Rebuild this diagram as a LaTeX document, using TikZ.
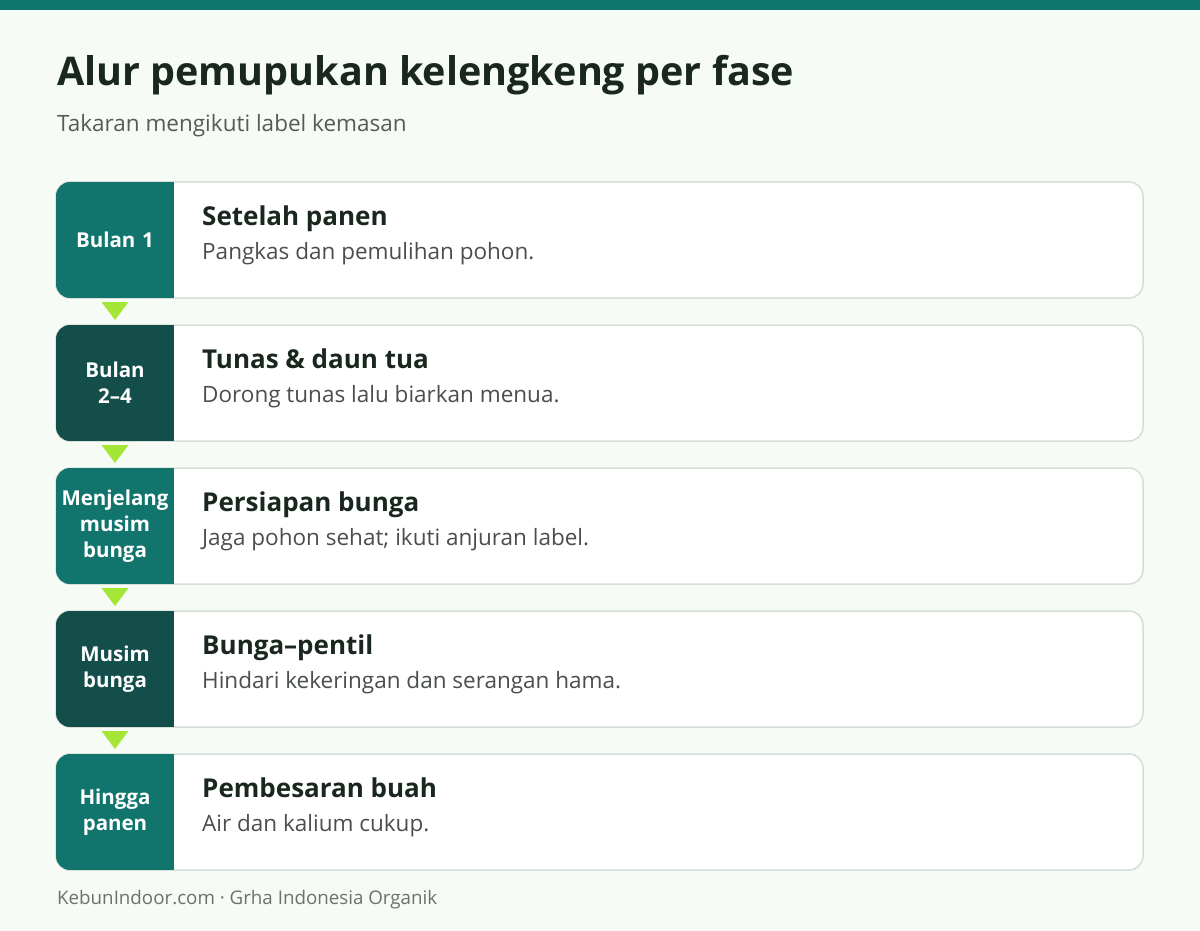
\documentclass[tikz,border=0pt]{standalone}
\usepackage{fontspec}
\setmainfont{Open Sans}
\usetikzlibrary{positioning}
\definecolor{bg}{HTML}{F7FBF6}
\definecolor{bar}{HTML}{0F766E}
\definecolor{tealA}{HTML}{11756E}
\definecolor{tealB}{HTML}{134E4A}
\definecolor{cardline}{HTML}{D6DED8}
\definecolor{titlec}{HTML}{1A271F}
\definecolor{desc}{HTML}{4A4F4C}
\definecolor{sub}{HTML}{555B57}
\definecolor{foot}{HTML}{6B716D}
\definecolor{lime}{HTML}{A3E635}
\tikzset{
  cardbox/.style={draw=cardline, line width=1.5pt, fill=white, rounded corners=14pt},
  tagtext/.style={text=white, font=\bfseries\fontsize{20.5}{26}\selectfont, align=center, text width=118pt, inner sep=0pt},
  cardtitle/.style={anchor=base west, text=titlec, font=\bfseries\fontsize{26}{30}\selectfont, inner sep=0pt},
  carddesc/.style={anchor=base west, text=desc, font=\fontsize{22.5}{26}\selectfont, inner sep=0pt},
  tri/.style={fill=lime, draw=none}
}
\begin{document}
\begin{tikzpicture}[x=1pt,y=-1pt]
\fill[bg] (0,0) rectangle (1200,931);
\useasboundingbox (0,0) rectangle (1200,931);
\fill[bar] (0,0) rectangle (1200,10);
\node[anchor=base west, inner sep=0pt, text=titlec, font=\bfseries\fontsize{39.5}{44}\selectfont] (title) at (57,86) {Alur pemupukan kelengkeng per fase};
\node[anchor=base west, inner sep=0pt, text=sub, font=\fontsize{22.5}{26}\selectfont] (subtitle) at (57,132) {Takaran mengikuti label kemasan};
\foreach \i/\col/\tag/\ttl/\dsc in {
  0/tealA/{Bulan 1}/{Setelah panen}/{Pangkas dan pemulihan pohon.},
  1/tealB/{Bulan\\2–4}/{Tunas \& daun tua}/{Dorong tunas lalu biarkan menua.},
  2/tealA/{Menjelang\\musim\\bunga}/{Persiapan bunga}/{Jaga pohon sehat; ikuti anjuran label.},
  3/tealB/{Musim\\bunga}/{Bunga–pentil}/{Hindari kekeringan dan serangan hama.},
  4/tealA/{Hingga\\panen}/{Pembesaran buah}/{Air dan kalium cukup.}} {
  \pgfmathsetmacro{\top}{182+143*\i}
  \pgfmathsetmacro{\bot}{\top+116}
  \pgfmathsetmacro{\mid}{\top+58}
  \draw[cardbox] (56,\top) rectangle (1143,\bot);
  \begin{scope}
    \clip[rounded corners=14pt] (56,\top) rectangle (1143,\bot);
    \fill[\col] (56,\top) rectangle (174,\bot);
  \end{scope}
  \node[tagtext] (tag\i) at (115,\mid) {\tag};
  \node[cardtitle] (ttl\i) at (202,\top+43) {\ttl};
  \node[carddesc] (dsc\i) at (202,\top+77) {\dsc};
}
\foreach \i in {0,...,3} {
  \pgfmathsetmacro{\ty}{182+143*\i+120}
  \fill[tri] (101.5,\ty) -- (128.5,\ty) -- (115,\ty+18) -- cycle;
}
\node[anchor=base west, inner sep=0pt, text=foot, font=\fontsize{18.75}{22}\selectfont] (footer) at (57,904) {KebunIndoor.com · Grha Indonesia Organik};
\end{tikzpicture}
\end{document}
